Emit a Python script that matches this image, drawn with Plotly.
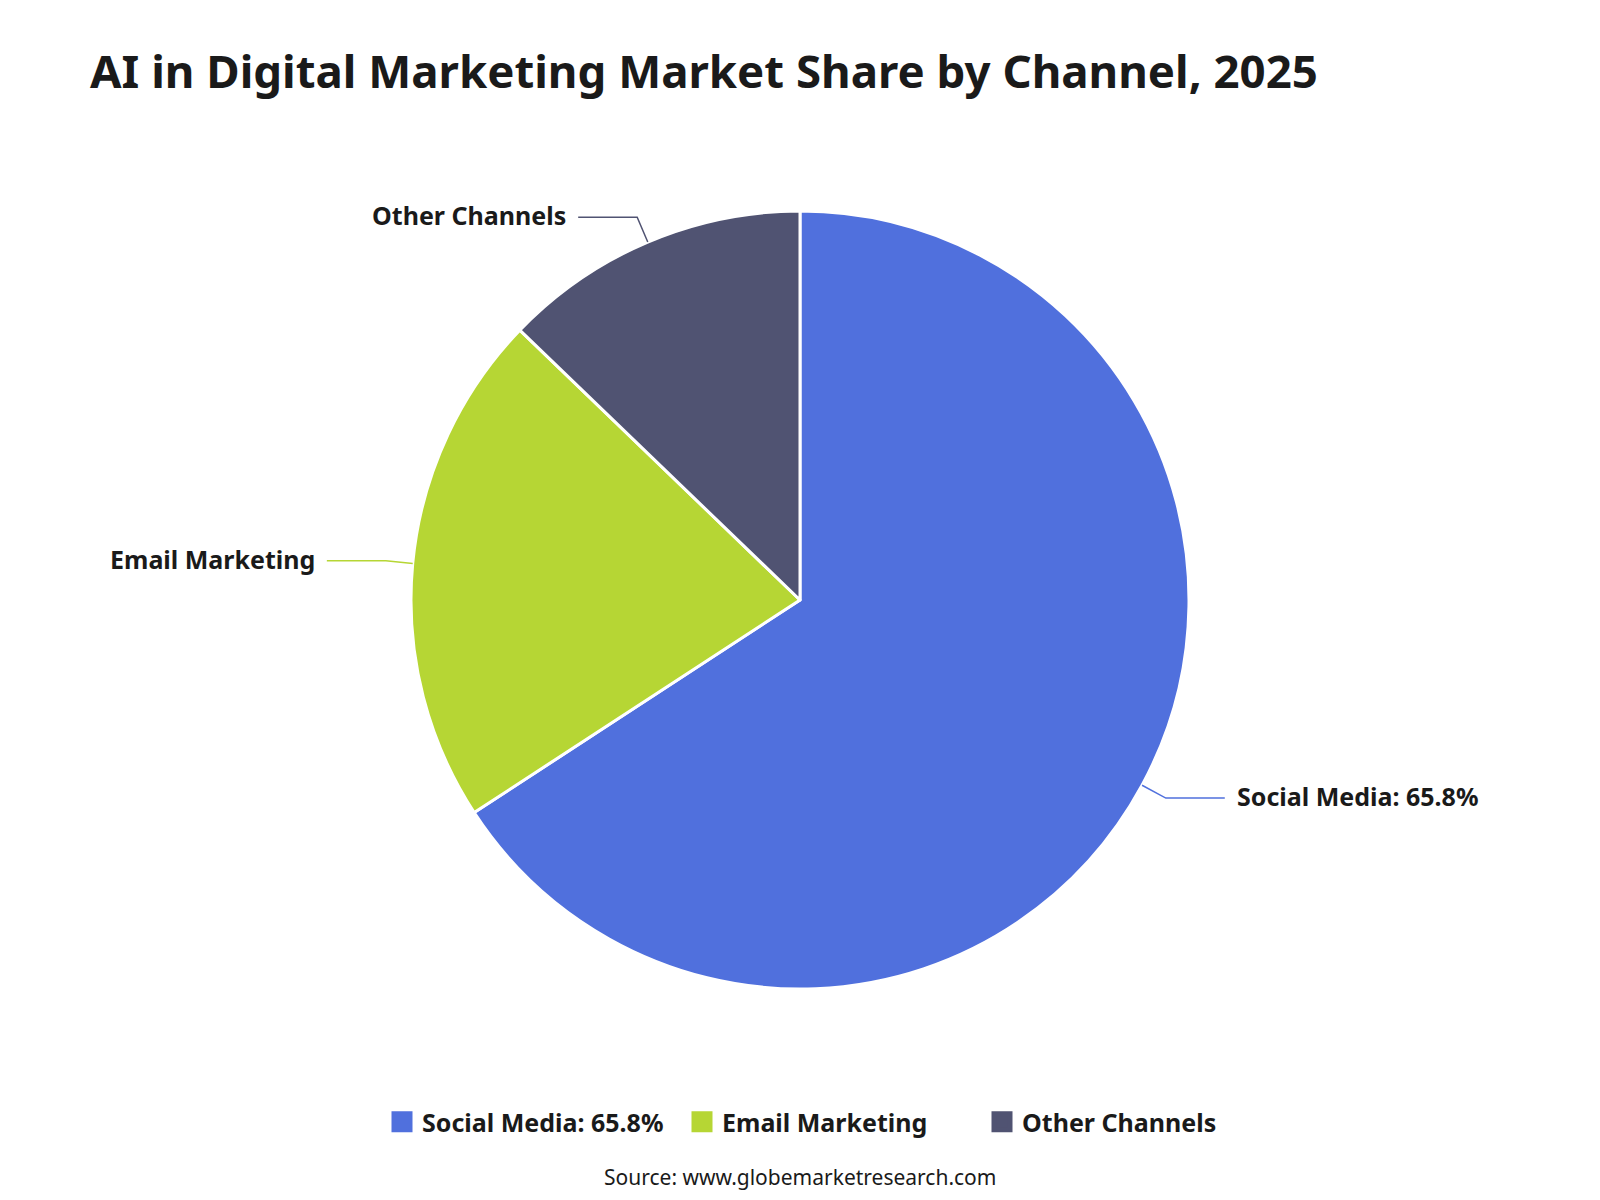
import math
import plotly.graph_objects as go

labels = ["Social Media: 65.8%", "Email Marketing", "Other Channels"]
values = [65.8, 21.4, 12.8]
colors = ["#5070dd", "#b6d634", "#505372"]
title_text = "AI in Digital Marketing Market Share by Channel, 2025"
source_text = "Source: www.globemarketresearch.com"

W, H = 1600, 1200
cx, cy, R = 800, 600, 389
len1, len2, gap = 27, 59, 10
FONT = "Noto Sans"
TXT = "#1a1a1a"

fig = go.Figure()
fig.add_trace(go.Pie(
    labels=labels, values=values, sort=False, direction="clockwise", rotation=0,
    marker=dict(colors=colors, line=dict(color="white", width=3)),
    textinfo="none", hoverinfo="label+percent", showlegend=False,
    domain=dict(x=[(cx - R) / W, (cx + R) / W], y=[(H - cy - R) / H, (H - cy + R) / H]),
))

# legend entries (square swatches, larger than the pie's default)
for lab, col in zip(labels, colors):
    fig.add_trace(go.Scatter(
        x=[None], y=[None], mode="markers", name=lab, hoverinfo="skip",
        marker=dict(symbol="square", size=16, color=col, line=dict(color=col, width=5)),
    ))

def px(x):
    return x / W

def py(y):
    return 1 - y / H

shapes = []
annotations = []
total = sum(values)
cum = 0.0
for lab, v, col in zip(labels, values, colors):
    mid = (cum + v / 2) / total * 2 * math.pi
    cum += v
    dx, dy = math.sin(mid), -math.cos(mid)
    x0, y0 = cx + R * dx, cy + R * dy
    x1, y1 = cx + (R + len1) * dx, cy + (R + len1) * dy
    sgn = 1 if dx >= 0 else -1
    x2 = x1 + sgn * len2
    shapes.append(dict(type="path", xref="paper", yref="paper",
                       path=f"M {px(x0)},{py(y0)} L {px(x1)},{py(y1)} L {px(x2)},{py(y1)}",
                       line=dict(color=col, width=1.5)))
    annotations.append(dict(text=f"<b>{lab}</b>", x=px(x2 + sgn * gap), y=py(y1 - 2),
                            xref="paper", yref="paper", showarrow=False,
                            xanchor="left" if sgn > 0 else "right", yanchor="middle",
                            font=dict(family=FONT, size=25, color=TXT)))

annotations.append(dict(text=f"<b>{title_text}</b>", x=px(88), y=py(70), xref="paper", yref="paper",
                        showarrow=False, xanchor="left", yanchor="middle",
                        font=dict(family=FONT, size=45.6, color=TXT)))
annotations.append(dict(text=source_text, x=px(800), y=py(1177), xref="paper", yref="paper",
                        showarrow=False, xanchor="center", yanchor="middle",
                        font=dict(family=FONT, size=21, color=TXT)))

fig.update_layout(
    width=W, height=H, margin=dict(l=0, r=0, t=0, b=0),
    paper_bgcolor="white", plot_bgcolor="white",
    shapes=shapes, annotations=annotations,
    showlegend=True,
    xaxis=dict(visible=False), yaxis=dict(visible=False),
    legend=dict(orientation="h", x=px(382), xanchor="left", y=py(1122), yanchor="middle",
                font=dict(family=FONT, size=25, color=TXT, weight="bold"),
                itemwidth=30, tracegroupgap=0, entrywidth=255, entrywidthmode="pixels"),
)

fig.write_html("out.html")
